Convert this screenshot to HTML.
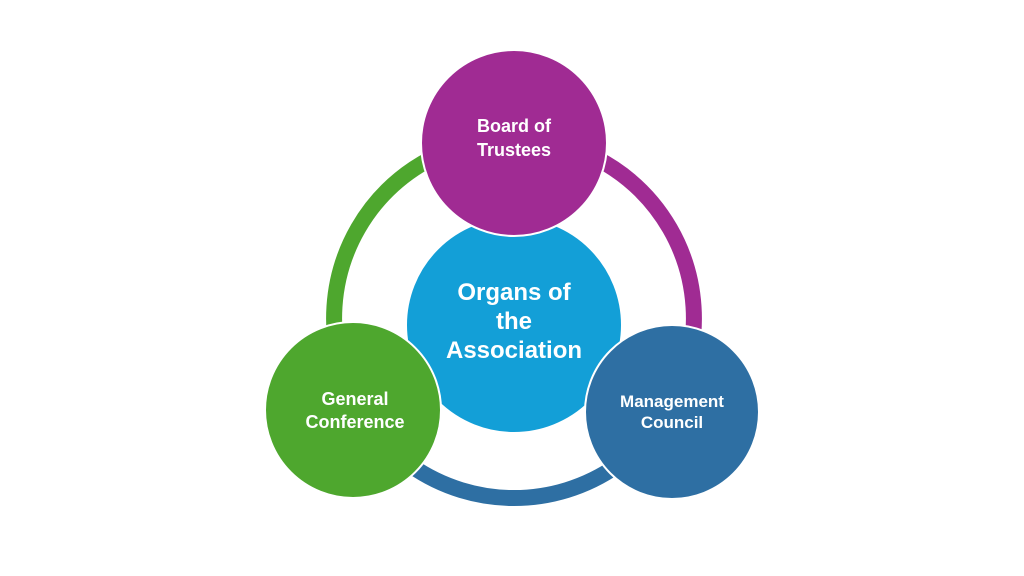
<!DOCTYPE html>
<html><head><meta charset="utf-8"><style>
html,body{margin:0;padding:0;background:#fff;width:1024px;height:576px;overflow:hidden}
svg text{font-family:"Liberation Sans",sans-serif;font-weight:bold;fill:#fff;text-anchor:middle}
</style></head><body>
<svg width="1024" height="576" viewBox="0 0 1024 576">
<g fill="none" stroke-width="16">
<path d="M 345 380 A 180 180 0 0 1 483 141" stroke="#4EA72E"/>
<path d="M 545 141 A 180 180 0 0 1 683 380" stroke="#A02B93"/>
<path d="M 683 380 A 180 180 0 0 1 345 380" stroke="#2E6FA3"/>
</g>
<circle cx="514" cy="325" r="108" fill="#139FD7" stroke="#fff" stroke-width="2"/>
<circle cx="514" cy="143" r="93" fill="#A02B93" stroke="#fff" stroke-width="2"/>
<circle cx="353" cy="410" r="88" fill="#4EA72E" stroke="#fff" stroke-width="2"/>
<circle cx="672" cy="412" r="87" fill="#2E6FA3" stroke="#fff" stroke-width="2"/>
<text x="514" y="132" font-size="18">Board of</text>
<text x="514" y="156" font-size="18">Trustees</text>
<text x="514" y="300" font-size="24">Organs of</text>
<text x="514" y="329" font-size="24">the</text>
<text x="514" y="358" font-size="24">Association</text>
<text x="355" y="405" font-size="18">General</text>
<text x="355" y="428" font-size="18">Conference</text>
<text x="672" y="407" font-size="17">Management</text>
<text x="672" y="428" font-size="17">Council</text>
</svg>
</body></html>
